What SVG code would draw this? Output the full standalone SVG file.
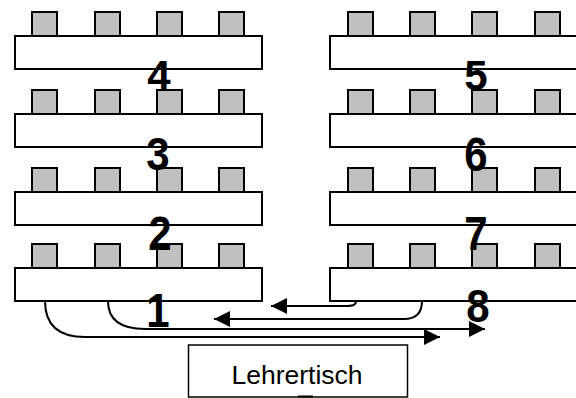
<svg xmlns="http://www.w3.org/2000/svg" width="576" height="398" viewBox="0 0 576 398">
  <style>
    .desk { fill: #ffffff; stroke: #000000; stroke-width: 2; }
    .chair { fill: #c0c0c0; stroke: #000000; stroke-width: 2; }
    .num { font-family: "Liberation Sans", Arial, sans-serif; font-weight: bold; font-size: 42px; fill: #000000; text-anchor: middle; }
    .conn { fill: none; stroke: #000000; stroke-width: 2; }
    .teacher { fill: #ffffff; stroke: #000000; stroke-width: 1.5; }
    .label { font-family: "Liberation Sans", Arial, sans-serif; font-size: 26.5px; fill: #000000; text-anchor: middle; }
  </style>
  <defs>
    <!-- one chair; its bottom is hidden under the desk top -->
    <rect id="chair" class="chair" x="0" y="0" width="25" height="26"/>
    <g id="chairsL">
      <use href="#chair" x="32"/>
      <use href="#chair" x="95"/>
      <use href="#chair" x="157"/>
      <use href="#chair" x="219"/>
    </g>
    <g id="chairsR">
      <use href="#chair" x="348"/>
      <use href="#chair" x="410"/>
      <use href="#chair" x="472"/>
      <use href="#chair" x="535"/>
    </g>
    <marker id="head" viewBox="0 0 16 16" refX="16" refY="8" markerWidth="16" markerHeight="16" markerUnits="userSpaceOnUse" orient="auto">
      <path d="M0,0 L16,8 L0,16 Z" fill="#000000"/>
    </marker>
  </defs>

  <!-- left column of desks -->
  <g id="row4">
    <use href="#chairsL" y="12"/>
    <rect class="desk" x="15" y="36" width="247" height="33"/>
  </g>
  <g id="row3">
    <use href="#chairsL" y="90"/>
    <rect class="desk" x="15" y="114" width="247" height="33"/>
  </g>
  <g id="row2">
    <use href="#chairsL" y="168"/>
    <rect class="desk" x="15" y="192" width="247" height="33"/>
  </g>
  <g id="row1">
    <use href="#chairsL" y="244"/>
    <rect class="desk" x="15" y="268" width="247" height="33"/>
  </g>

  <!-- right column of desks (runs past the right edge) -->
  <g id="row5">
    <use href="#chairsR" y="12"/>
    <rect class="desk" x="330" y="36" width="270" height="33"/>
  </g>
  <g id="row6">
    <use href="#chairsR" y="90"/>
    <rect class="desk" x="330" y="114" width="270" height="33"/>
  </g>
  <g id="row7">
    <use href="#chairsR" y="168"/>
    <rect class="desk" x="330" y="192" width="270" height="33"/>
  </g>
  <g id="row8">
    <use href="#chairsR" y="244"/>
    <rect class="desk" x="330" y="268" width="270" height="33"/>
  </g>

  <!-- walking routes -->
  <g id="connectors">
    <path class="conn" d="M356,301 C356,305 353,306 346,306 L271,306" marker-end="url(#head)"/>
    <path class="conn" d="M422,301 C422,313 416,319 404,319 L214,319" marker-end="url(#head)"/>
    <path class="conn" d="M108,301 C108,320 120,329 145,329 L485,329" marker-end="url(#head)"/>
    <path class="conn" d="M45,301 C45,326 60,337 85,337 L440,337" marker-end="url(#head)"/>
  </g>

  <!-- row numbers -->
  <g id="numbers">
    <text class="num" x="159" y="90">4</text>
    <text class="num" transform="translate(158 170) scale(1 1.08)">3</text>
    <text class="num" transform="translate(160 250) scale(1 1.15)">2</text>
    <text class="num" transform="translate(158 327) scale(1 1.15)">1</text>
    <text class="num" x="476" y="90">5</text>
    <text class="num" transform="translate(476 171) scale(1 1.15)">6</text>
    <text class="num" transform="translate(476 250) scale(1 1.15)">7</text>
    <text class="num" transform="translate(478 322) scale(1 1.08)">8</text>
  </g>

  <!-- teacher's desk -->
  <g id="lehrertisch">
    <rect class="teacher" x="188.5" y="345" width="219" height="52"/>
    <line x1="298" y1="396.5" x2="313" y2="396.5" stroke="#000000" stroke-width="2"/>
    <text class="label" x="297" y="384">Lehrertisch</text>
  </g>
</svg>
